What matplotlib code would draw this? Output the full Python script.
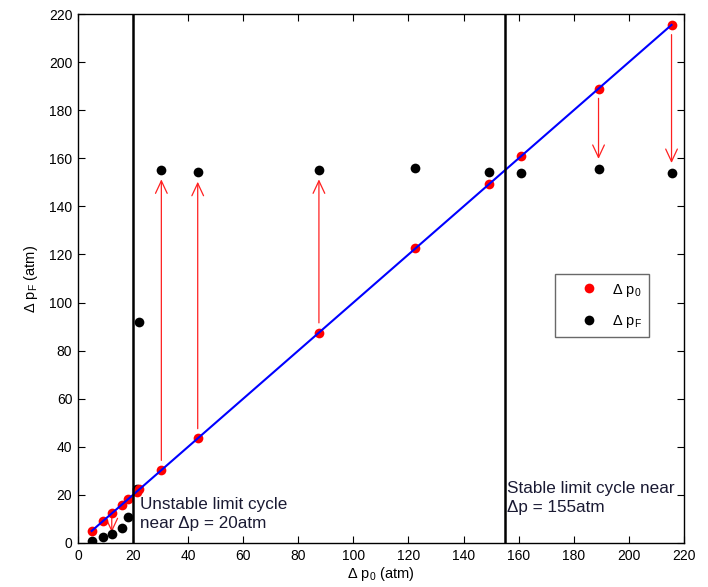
"""Limit-cycle map: initial pressure amplitude vs final pressure amplitude."""
import matplotlib
matplotlib.use("Agg")
import matplotlib.pyplot as plt

plt.rcParams["font.family"] = ["Liberation Sans", "DejaVu Sans"]
plt.rcParams["mathtext.fontset"] = "custom"
plt.rcParams["mathtext.rm"] = "Liberation Sans"
plt.rcParams["mathtext.default"] = "regular"

# initial amplitude (atm) and the amplitude the system settles to (atm)
dp0 = [5.0, 9.2, 12.3, 15.9, 18.3, 21.3, 22.3, 30.3, 43.5, 87.5, 122.5, 149.2, 161.0, 189.0, 215.5]
dpF = [0.8, 2.4, 3.6, 6.4, 11.0, 22.3, 91.8, 155.3, 154.3, 155.3, 155.8, 154.2, 154.0, 155.7, 154.0]

# runs that get an arrow from start to end value
arrow_idx = [2, 7, 8, 9, 13, 14]

unstable_dp = 20
stable_dp = 155

xticks = list(range(0, 221, 20))
yticks = list(range(0, 221, 20))

fig = plt.figure(figsize=(7.08, 5.87), dpi=100)
ax = fig.add_axes([0.110, 0.075, 0.856, 0.901])

ax.plot(dp0, dpF, "o", color="black", markersize=7, markeredgewidth=0,
        label=r"Δ p$_F$", zorder=3)
ax.plot(dp0, dp0, "o", color="red", markersize=7, markeredgewidth=0,
        label=r"Δ p$_0$", zorder=4)
ax.plot(dp0, dp0, "-", color="blue", linewidth=1.5, zorder=5)

for i in arrow_idx:
    gap = 1.5 if abs(dp0[i] - dpF[i]) < 20 else 7
    ax.annotate("", xy=(dp0[i], dpF[i]), xytext=(dp0[i], dp0[i]),
                arrowprops=dict(arrowstyle="->,head_length=0.9,head_width=0.42",
                                color="#ff2020", linewidth=0.9,
                                shrinkA=gap, shrinkB=gap),
                zorder=2)

ax.axvline(unstable_dp, color="black", linewidth=1.8, zorder=6)
ax.axvline(stable_dp, color="black", linewidth=1.8, zorder=6)

ax.text(22.5, 19.3, "Unstable limit cycle\nnear Δp = 20atm", fontsize=12.3,
        ha="left", va="top", linespacing=1.35, color="#1a1a33", zorder=7)
ax.text(155.8, 25.8, "Stable limit cycle near\nΔp = 155atm", fontsize=12.3,
        ha="left", va="top", linespacing=1.35, color="#1a1a33", zorder=7)

ax.set_xlim(0, 220)
ax.set_ylim(0, 220)
ax.set_xticks(xticks)
ax.set_yticks(yticks)
ax.tick_params(direction="in", length=5, width=0.8, top=True, right=True,
               labelsize=10, colors="black", pad=4)
for sp in ax.spines.values():
    sp.set_linewidth(1.0)

ax.set_xlabel(r"Δ p$_0$ (atm)", fontsize=10.5, labelpad=2)
ax.set_ylabel(r"Δ p$_F$ (atm)", fontsize=10.5, labelpad=6)

handles, labels = ax.get_legend_handles_labels()
leg = ax.legend(handles[::-1], labels[::-1], loc="upper left",
                bbox_to_anchor=(0.787, 0.508, 0.155, 0.0), mode="expand",
                fontsize=10.5, frameon=True,
                fancybox=False, edgecolor="#444444", borderpad=0.5,
                labelspacing=1.0, handletextpad=-0.3, handlelength=3.7,
                borderaxespad=0)
leg.get_frame().set_linewidth(1.0)

fig.savefig("out.png", dpi=100)
